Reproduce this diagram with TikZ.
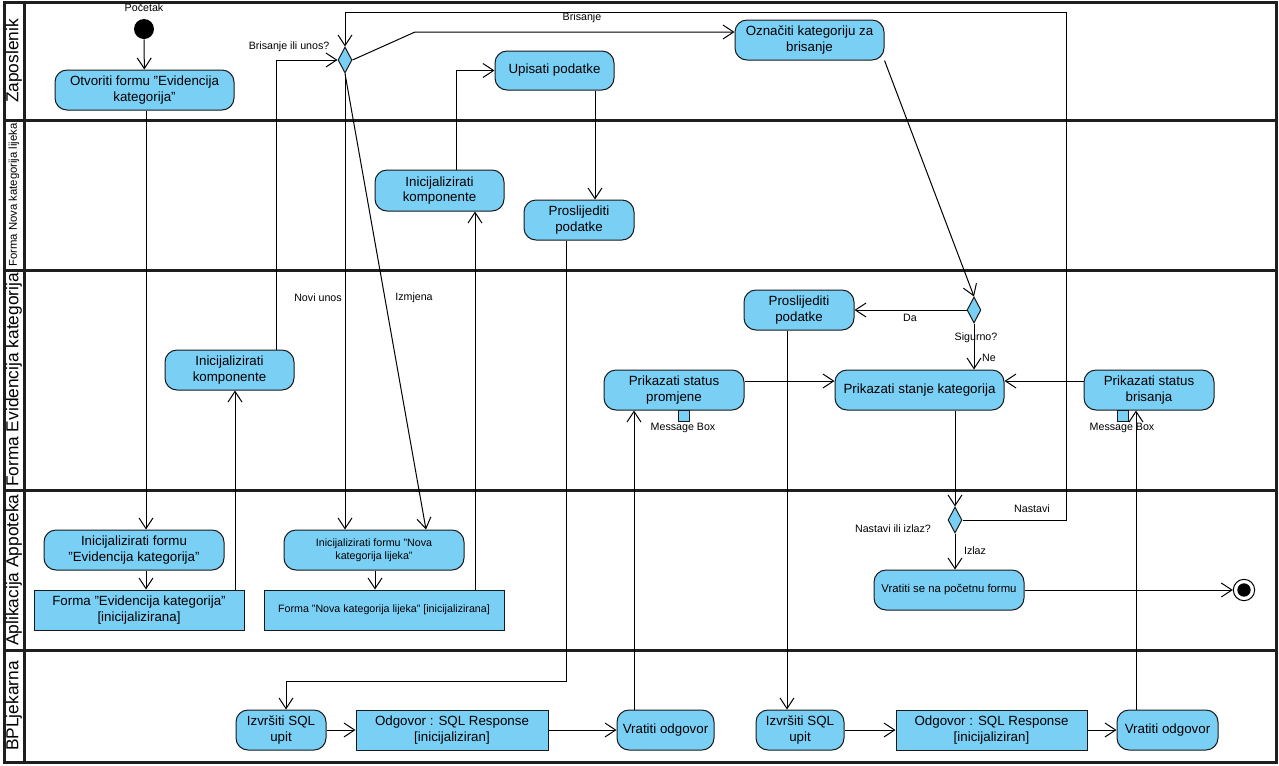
\documentclass[tikz,border=0pt]{standalone}
\usepackage{fontspec}
\setmainfont{Liberation Sans}
\usetikzlibrary{arrows.meta,shapes.geometric}
\definecolor{vpblue}{RGB}{122,207,245}
\definecolor{laneline}{RGB}{30,30,30}
\begin{document}
\begin{tikzpicture}[x=0.75pt,y=-0.75pt,
  sz/.style 2 args={minimum width=#1*0.75pt, minimum height=#2*0.75pt},
  act/.style={draw=black!90, fill=vpblue, rounded corners=9pt, line width=0.75pt,
    align=center, inner sep=1pt, font=\fontsize{10}{11.5}\selectfont},
  obj/.style={draw=black!90, fill=vpblue, line width=0.75pt,
    align=center, inner sep=1pt, font=\fontsize{10}{11.5}\selectfont},
  smalltext/.style={font=\fontsize{8}{10}\selectfont},
  dec/.style={diamond, draw=black!90, fill=vpblue, line width=0.75pt, inner sep=0pt,
    minimum width=10.5pt, minimum height=19.5pt},
  pinbox/.style={draw=black!90, fill=vpblue, line width=0.6pt, inner sep=0pt,
    minimum width=8pt, minimum height=8.5pt},
  initnode/.style={circle, fill=black, inner sep=0pt, minimum size=15pt},
  finalnode/.style={circle, draw=black, fill=white, line width=0.75pt, inner sep=0pt, minimum size=16pt},
  lbl/.style={inner sep=1pt, font=\fontsize{8}{9.5}\selectfont},
  lanetitle/.style={rotate=90, inner sep=0pt, font=\fontsize{13}{14}\selectfont},
  lane/.style={draw=laneline, line width=2.25pt},
  flow/.style={draw=black, line width=0.75pt,
    -{Straight Barb[length=8pt,width=10.5pt,line width=0.75pt]}}
]
\useasboundingbox (0,0) rectangle (1279,765);

% swimlane frame
\draw[lane] (4,2) rectangle (1276,762);
\draw[lane] (24,2) -- (24,762);
\draw[lane] (4,120) -- (1276,120);
\draw[lane] (4,270) -- (1276,270);
\draw[lane] (4,490) -- (1276,490);
\draw[lane] (4,650) -- (1276,650);

% lane titles
\node[lanetitle] (tzap) at (14,61) {Zaposlenik};
\node[lanetitle, font=\fontsize{8.5}{9}\selectfont] (tnova) at (14,195) {Forma Nova kategorija lijeka};
\node[lanetitle] (tevid) at (14,380) {Forma Evidencija kategorija};
\node[lanetitle] (tapp) at (14,570) {Aplikacija Appoteka};
\node[lanetitle] (tbp) at (14,706) {BPLjekarna};

% start and end
\node[initnode] (start) at (144,29) {};
\node[lbl] (lstart) at (144,8) {Početak};
\node[finalnode] (end) at (1244,590) {};
\fill (end.center) circle (5pt);

% Zaposlenik
\node[act, sz={179}{40}] (otv) at (144.5,90) {Otvoriti formu "Evidencija\\kategorija"};
\node[dec] (d1) at (345,60) {};
\node[lbl, anchor=east] (ld1) at (331,47) {Brisanje ili unos?};
\node[act, sz={119}{39}] (ups) at (554.5,70.5) {Upisati podatke};
\node[act, sz={149}{40}] (ozn) at (809.5,40) {Označiti kategoriju za\\brisanje};

% Forma Nova kategorija lijeka
\node[act, sz={129}{41}] (ik1) at (439.5,190.5) {Inicijalizirati\\komponente};
\node[act, sz={110}{40}] (pp1) at (579,220) {Proslijediti\\podatke};

% Forma Evidencija kategorija
\node[act, sz={129}{40}] (ik2) at (229.5,370) {Inicijalizirati\\komponente};
\node[act, sz={110}{40}] (pp2) at (799,310) {Proslijediti\\podatke};
\node[dec] (d2) at (974,310) {};
\node[act, sz={140}{40}] (psp) at (674,390) {Prikazati status\\promjene};
\node[act, sz={169}{40}] (psk) at (919.5,390) {Prikazati stanje kategorija};
\node[act, sz={130}{40}] (psb) at (1149,390) {Prikazati status\\brisanja};
\node[pinbox] (pin1) at (684,416) {};
\node[pinbox] (pin2) at (1123,416) {};
\node[lbl] (lpin1) at (683,428) {Message Box};
\node[lbl] (lpin2) at (1122,428) {Message Box};

% Aplikacija Appoteka
\node[act, sz={180}{40}] (ife) at (134,550) {Inicijalizirati formu\\"Evidencija kategorija"};
\node[obj, sz={210}{40}] (fe) at (139,610) {Forma "Evidencija kategorija"\\{}[inicijalizirana]};
\node[act, smalltext, sz={180}{40}] (ifn) at (374,550) {Inicijalizirati formu "Nova\\kategorija lijeka"};
\node[obj, smalltext, sz={240}{40}] (fn) at (384,610) {Forma "Nova kategorija lijeka" [inicijalizirana]};
\node[dec] (d3) at (955,520) {};
\node[act, smalltext, font=\fontsize{8.5}{10}\selectfont, sz={150}{40}] (vsp) at (949,590) {Vratiti se na početnu formu};

% BPLjekarna
\node[act, sz={90}{40}] (iz1) at (281,730) {Izvršiti SQL\\upit};
\node[obj, sz={192}{40}] (od1) at (452,730) {Odgovor : SQL Response\\{}[inicijaliziran]};
\node[act, sz={97}{40}] (vo1) at (665.5,730) {Vratiti odgovor};
\node[act, sz={88}{40}] (iz2) at (800,730) {Izvršiti SQL\\upit};
\node[obj, sz={191}{40}] (od2) at (991.5,730) {Odgovor : SQL Response\\{}[inicijaliziran]};
\node[act, sz={101}{40}] (vo2) at (1167.5,730) {Vratiti odgovor};

% guide coordinates for connector routing
\coordinate (x146) at (146,0);
\coordinate (x235) at (235,0);
\coordinate (x276) at (276,0);
\coordinate (x375) at (375,0);
\coordinate (x426) at (426,0);
\coordinate (x456) at (456,0);
\coordinate (x475) at (475,0);
\coordinate (x595) at (595,0);
\coordinate (x634) at (634,0);
\coordinate (x787) at (787,0);
\coordinate (x1136) at (1136,0);
\coordinate (y381) at (0,381);
\coordinate (kb) at (415,32);
\coordinate (k1a) at (566,681);
\coordinate (k1b) at (286,681);
\coordinate (kn) at (1066,12);

% control flow
\draw[flow] (start) -- (otv);
\draw[flow] (otv.south -| x146) -- (ife.north -| x146);
\draw[flow] (ife.south -| x146) -- (fe.north -| x146);
\draw[flow] (fe.north -| x235) -- (ik2.south -| x235);
\draw[flow] (ik2.north -| x276) |- (d1.west);
\draw[flow] (d1.south) -- (ifn.north -| d1.south);
\draw[flow] (d1.south) -- (ifn.north -| x426);
\draw[flow] (d1.east) -- (kb) -- (ozn.west |- kb);
\draw[flow] (ifn.south -| x375) -- (fn.north -| x375);
\draw[flow] (fn.north -| x475) -- (ik1.south -| x475);
\draw[flow] (ik1.north -| x456) |- (ups.west);
\draw[flow] (ups.south -| x595) -- (pp1.north -| x595);
\draw[flow] (pp1.south -| k1a) -- (k1a) -- (k1b) -- (iz1.north -| k1b);
\draw[flow] (iz1) -- (od1);
\draw[flow] (od1) -- (vo1);
\draw[flow] (vo1.north -| x634) -- (psp.south -| x634);
\draw[flow] (psp.east |- y381) -- (psk.west |- y381);
\draw[flow] (ozn.south east) -- (d2.north);
\draw[flow] (d2.west) -- (pp2.east |- d2.west);
\draw[flow] (d2.south) -- (psk.north -| d2.south);
\draw[flow] (pp2.south -| x787) -- (iz2.north -| x787);
\draw[flow] (iz2) -- (od2);
\draw[flow] (od2) -- (vo2);
\draw[flow] (vo2.north -| x1136) -- (psb.south -| x1136);
\draw[flow] (psb.west |- y381) -- (psk.east |- y381);
\draw[flow] (psk.south -| d3) -- (d3.north);
\draw[flow] (d3.south) -- (vsp.north -| d3.south);
\draw[flow] (d3.east) -| (kn) -| (d1.north);
\draw[flow] (vsp) -- (end);

% guard labels
\node[lbl] (lnovi) at (318,298) {Novi unos};
\node[lbl] (lizm) at (414,298) {Izmjena};
\node[lbl] (lbris) at (582,18) {Brisanje};
\node[lbl] (lda) at (910,318) {Da};
\node[lbl] (lsig) at (976,338) {Sigurno?};
\node[lbl] (lne) at (989,358) {Ne};
\node[lbl] (lnast) at (1032,509) {Nastavi};
\node[lbl] (lnoi) at (893,529) {Nastavi ili izlaz?};
\node[lbl] (liz) at (975,551) {Izlaz};
\end{tikzpicture}
\end{document}
